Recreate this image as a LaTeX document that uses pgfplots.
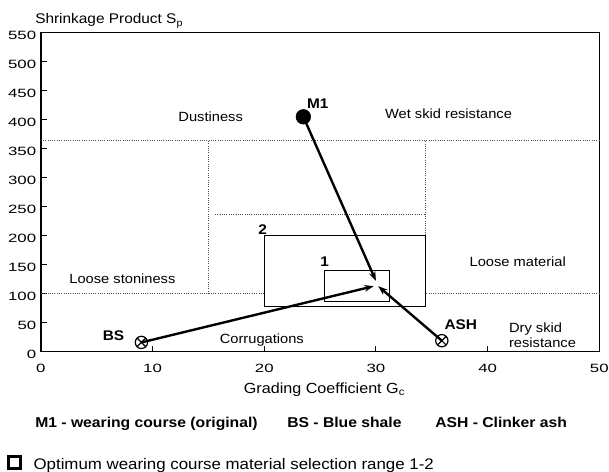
\documentclass[border=0pt]{standalone}
\usepackage{fontspec}
\setmainfont[FakeStretch=1.1]{Liberation Sans}
\newfontfamily\tickfont[FakeStretch=1.4]{Liberation Sans}
\usepackage{pgfplots}
\pgfplotsset{compat=1.18}
\usetikzlibrary{plotmarks,arrows.meta}
\begin{document}
\begin{tikzpicture}
\begin{axis}[
  at={(0,0)}, anchor=south west,
  scale only axis, width=418.8pt, height=239.25pt,
  xmin=0, xmax=50, ymin=0, ymax=550,
  xtick={0,10,...,50}, ytick={0,50,...,550},
  tick align=inside, tick pos=left,
  major tick length=4.5pt,
  axis line style={line width=1pt},
  tick style={line width=0.8pt, black},
  /pgf/number format/assume math mode=true,
  ticklabel style={font=\tickfont\fontsize{9}{10}\selectfont},
  xticklabel style={yshift=-6pt},
  yticklabel style={yshift=-2pt},
  clip=false,
]
% dotted region boundaries
\addplot[black!70, line width=0.6pt, dash pattern=on 0.6pt off 1.1pt] coordinates {(0,365) (50,365)};
\addplot[black!70, line width=0.6pt, dash pattern=on 0.6pt off 1.1pt] coordinates {(0,100) (50,100)};
\addplot[black!70, line width=0.6pt, dash pattern=on 0.6pt off 1.1pt] coordinates {(15,100) (15,365)};
\addplot[black!70, line width=0.6pt, dash pattern=on 0.6pt off 1.1pt] coordinates {(34.45,201) (34.45,365)};
\addplot[black!70, line width=0.6pt, dash pattern=on 0.6pt off 1.1pt] coordinates {(15.6,237) (34.45,237)};
% selection ranges
\addplot[black, line width=0.7pt, fill=white] coordinates {(20,78.8) (34.45,78.8) (34.45,201) (20,201) (20,78.8)} -- cycle;
\addplot[black, line width=0.7pt] coordinates {(25.4,86.2) (31.2,86.2) (31.2,139.7) (25.4,139.7) (25.4,86.2)} -- cycle;
% arrows
\addplot[black, line width=1.8pt, -{Stealth[length=7pt,width=5pt]}] coordinates {(23.5,405) (30.0,122)};
\addplot[black, line width=1.8pt, -{Stealth[length=7pt,width=5pt]}] coordinates {(9,16) (29.8,113)};
\addplot[black, line width=1.8pt, -{Stealth[length=7pt,width=5pt]}] coordinates {(35.9,19) (30.2,113)};
% points
\addplot[only marks, mark=*, mark size=5.5pt, black] coordinates {(23.5,405)};
\addplot[only marks, mark=otimes, mark size=4.6pt, black, mark options={line width=0.9pt, fill=white}] coordinates {(9,16) (35.9,19)};
% labels
\node[font=\fontsize{10}{12}\selectfont] at (axis cs:15.2,405) {Dustiness};
\node[font=\bfseries\fontsize{10.5}{12}\selectfont] at (axis cs:24.8,428) {M1};
\node[font=\fontsize{10}{12}\selectfont] at (axis cs:36.5,411) {Wet skid resistance};
\node[font=\fontsize{10}{12}\selectfont] at (axis cs:42.7,155) {Loose material};
\node[font=\fontsize{10}{12}\selectfont] at (axis cs:7.3,126.5) {Loose stoniness};
\node[font=\fontsize{10}{12}\selectfont, anchor=west, inner sep=0pt] at (axis cs:16.0,20) {Corrugations};
\node[font=\bfseries\fontsize{10.5}{12}\selectfont] at (axis cs:6.5,27.6) {BS};
\node[font=\bfseries\fontsize{10.5}{12}\selectfont] at (axis cs:37.6,46) {ASH};
\node[font=\fontsize{10}{11}\selectfont, anchor=west, align=left, inner sep=0pt] at (axis cs:41.9,28.8) {Dry skid\\resistance};
\node[font=\bfseries\fontsize{10.5}{12}\selectfont] at (axis cs:19.86,211) {2};
\node[font=\bfseries\fontsize{10.5}{12}\selectfont] at (axis cs:25.4,156) {1};
\end{axis}
\begin{scope}[x=0.75pt,y=0.75pt]
\node[anchor=base west, inner sep=0pt, font=\fontsize{10.5}{12}\selectfont] at (-5.9,327.7) {Shrinkage Product S\textsubscript{p}};
\node[anchor=base, inner sep=0pt, font=\fontsize{11}{13}\selectfont] at (283.6,-41.3) {Grading Coefficient G\textsubscript{c}};
\node[anchor=base west, inner sep=0pt, font=\bfseries\fontsize{10.7}{13}\selectfont] at (-5.9,-75.6) {M1 - wearing course (original)};
\node[anchor=base west, inner sep=0pt, font=\bfseries\fontsize{10.7}{13}\selectfont] at (246.1,-75.6) {BS - Blue shale};
\node[anchor=base west, inner sep=0pt, font=\bfseries\fontsize{10.7}{13}\selectfont] at (394.1,-75.6) {ASH - Clinker ash};
\draw[line width=2.2pt] (-32.1,-104.8) rectangle (-20.7,-116.8);
\node[anchor=base west, inner sep=0pt, font=\fontsize{11.5}{13}\selectfont] at (-7.6,-117.3) {Optimum wearing course material selection range 1-2};
\pgfresetboundingbox
\useasboundingbox (-40.9,-119.3) rectangle (568.1,351.7);
\end{scope}
\end{tikzpicture}
\end{document}
